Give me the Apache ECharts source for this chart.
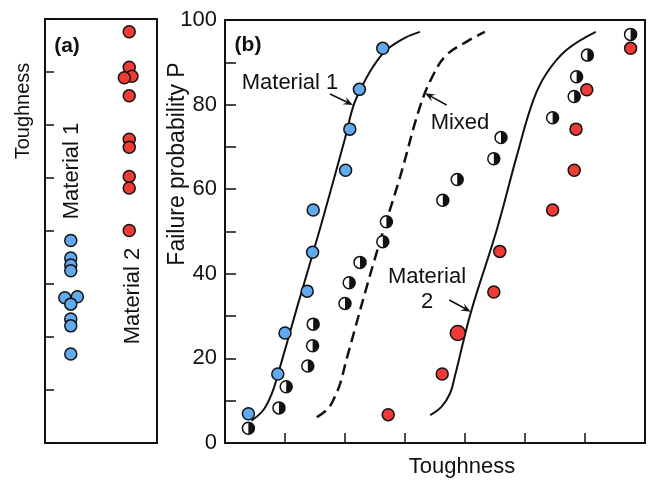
<!DOCTYPE html>
<html>
<head>
<meta charset="utf-8">
<script src="https://cdn.jsdelivr.net/npm/echarts@6/dist/echarts.min.js"></script>
<style>
  html, body { margin: 0; padding: 0; background: #fff; }
  #chart { width: 649px; height: 480px; }
</style>
</head>
<body>
<div id="chart"></div>
<script>
// panel (a): [column position, toughness]
var aMaterial1 = [[2.3, 3.82], [2.3, 3.49], [2.3, 3.36], [2.3, 3.25], [1.77, 2.74],
  [2.89, 2.76], [2.3, 2.62], [2.3, 2.34], [2.3, 2.21], [2.3, 1.68]];
var aMaterial2 = [[7.52, 7.76], [7.52, 7.09], [7.76, 6.92], [7.08, 6.89], [7.52, 6.55],
  [7.52, 5.73], [7.52, 5.58], [7.52, 5.03], [7.52, 4.81], [7.52, 4.01]];

// panel (b): [toughness, failure probability P]
var bMaterial1 = [[0.39, 6.9], [0.88, 16.3], [1.0, 26.0], [1.37, 35.9], [1.46, 45.1],
  [1.47, 55.1], [2.01, 64.5], [2.08, 74.2], [2.24, 83.6], [2.63, 93.3]];
var bMaterial2 = [[2.72, 6.7], [3.62, 16.3], [3.88, 26.0], [4.48, 35.7], [4.58, 45.3],
  [5.46, 55.1], [5.82, 64.5], [5.85, 74.2], [6.03, 83.5], [6.76, 93.3]];
var bMixed = [[0.39, 3.5], [0.9, 8.3], [1.02, 13.3], [1.38, 18.2], [1.46, 23.0],
  [1.47, 28.1], [2.0, 33.0], [2.07, 37.9], [2.25, 42.7], [2.63, 47.6],
  [2.69, 52.3], [3.63, 57.4], [3.87, 62.3], [4.48, 67.2], [4.6, 72.2],
  [5.46, 76.9], [5.82, 81.9], [5.86, 86.6], [6.04, 91.7], [6.76, 96.6]];

// fitted curves
var curveMaterial1 = [[0.44, 5.3], [0.64, 7.8], [0.78, 11.7], [0.88, 16.1], [1.2, 32],
  [1.6, 51.5], [2.0, 72], [2.14, 79.7], [2.28, 84.2], [2.47, 89], [2.69, 92.9],
  [3.0, 95.8], [3.25, 97.2]];
var curveMixed = [[1.53, 6.1], [1.72, 8.2], [1.83, 10.9], [1.92, 14.1], [2.03, 20],
  [2.5, 43.7], [2.92, 63], [3.25, 79.5], [3.47, 87], [3.69, 91.7], [4.03, 94.9],
  [4.33, 97.2]];
var curveMaterial2 = [[3.42, 6.6], [3.61, 8.6], [3.75, 11.7], [3.83, 15.7], [4.1, 31],
  [4.53, 50.4], [4.86, 67.7], [5.14, 81.1], [5.36, 87.4], [5.69, 92.9], [6.18, 97.2]];

var font = 'Liberation Sans, Arial, Helvetica, sans-serif';
var ink = '#111';
var blue = '#62aaf0';
var red = '#ee3b35';

// small filled arrow head from (x1,y1) pointing at (x2,y2)
function arrow(x1, y1, x2, y2) {
  var dx = x2 - x1, dy = y2 - y1;
  var len = Math.sqrt(dx * dx + dy * dy);
  var ux = dx / len, uy = dy / len;
  var nx = -uy, ny = ux;
  var bx = x2 - 10 * ux, by = y2 - 10 * uy;
  return [
    { type: 'polyline', shape: { points: [[x1, y1], [x2 - 4 * ux, y2 - 4 * uy]] },
      style: { stroke: ink, lineWidth: 1.5, fill: null } },
    { type: 'polygon',
      shape: { points: [[x2, y2], [bx + 4 * nx, by + 4 * ny], [x2 - 6 * ux, y2 - 6 * uy], [bx - 4 * nx, by - 4 * ny]] },
      style: { fill: ink } }
  ];
}

function label(text, x, y, size, opts) {
  opts = opts || {};
  return {
    type: 'text', x: x, y: y, rotation: opts.rotate ? Math.PI / 2 : 0,
    style: {
      text: text, fontSize: size, fontFamily: font, fontWeight: opts.bold ? 'bold' : 'normal',
      fill: ink, align: 'center', verticalAlign: 'middle', lineHeight: opts.lineHeight || size
    }
  };
}

var graphics = [
  label('Toughness', 23, 111, 20, { rotate: true }),
  label('(a)', 67, 46, 21, { bold: true }),
  label('Material 1', 72, 171, 22, { rotate: true }),
  label('Material 2', 133, 296, 22, { rotate: true }),
  label('Failure probability P', 178, 164, 23, { rotate: true }),
  label('Toughness', 462, 467, 22),
  label('(b)', 248, 45, 21, { bold: true }),
  label('Material 1', 290, 83, 22),
  label('Mixed', 460, 123, 22),
  label('Material\n2', 427, 289, 22, { lineHeight: 25 })
].concat(arrow(330, 94, 353, 105))
 .concat(arrow(446.7, 105, 425, 93.3))
 .concat(arrow(449.3, 300, 470.7, 311.7));

var dom = document.getElementById('chart');
var myChart = echarts.init(dom, null, { renderer: 'canvas' });

var tickStyle = { color: ink, width: 1.5 };

var option = {
  animation: false,
  backgroundColor: '#fff',
  grid: [
    { left: 45, top: 19, width: 112, height: 424, show: true, borderColor: ink, borderWidth: 2 },
    { left: 225, top: 20, width: 420, height: 423, show: true, borderColor: ink, borderWidth: 2 }
  ],
  xAxis: [
    { gridIndex: 0, type: 'value', min: 0, max: 10, show: false },
    {
      gridIndex: 1, type: 'value', min: 0, max: 7, interval: 1,
      axisLine: { show: false },
      axisTick: { inside: true, length: 10, lineStyle: tickStyle },
      axisLabel: { show: false },
      splitLine: { show: false }
    }
  ],
  yAxis: [
    {
      gridIndex: 0, type: 'value', min: 0, max: 8, interval: 1,
      axisLine: { show: false },
      axisTick: { inside: true, length: 9, lineStyle: tickStyle },
      axisLabel: { show: false },
      splitLine: { show: false }
    },
    {
      gridIndex: 1, type: 'value', min: 0, max: 100, interval: 10,
      axisLine: { show: false },
      axisTick: { inside: true, length: 11, lineStyle: tickStyle },
      axisLabel: {
        margin: 8, fontSize: 22, fontFamily: font, color: ink,
        formatter: function (v) { return v % 20 === 0 ? String(v) : ''; }
      },
      splitLine: { show: false }
    }
  ],
  series: [
    {
      type: 'scatter', xAxisIndex: 0, yAxisIndex: 0, data: aMaterial1, symbolSize: 12, z: 3,
      itemStyle: { color: blue, borderColor: ink, borderWidth: 1.5, opacity: 1 }
    },
    {
      type: 'scatter', xAxisIndex: 0, yAxisIndex: 0, data: aMaterial2, symbolSize: 12, z: 3,
      itemStyle: { color: red, borderColor: ink, borderWidth: 1.5, opacity: 1 }
    },
    {
      type: 'line', xAxisIndex: 1, yAxisIndex: 1, data: curveMaterial1, showSymbol: false,
      smooth: 0.4, z: 2, lineStyle: { color: ink, width: 2 }
    },
    {
      type: 'line', xAxisIndex: 1, yAxisIndex: 1, data: curveMixed, showSymbol: false,
      smooth: 0.4, z: 2, lineStyle: { color: ink, width: 2.5, type: [11, 6] }
    },
    {
      type: 'line', xAxisIndex: 1, yAxisIndex: 1, data: curveMaterial2, showSymbol: false,
      smooth: 0.4, z: 2, lineStyle: { color: ink, width: 2 }
    },
    {
      type: 'scatter', xAxisIndex: 1, yAxisIndex: 1, data: bMaterial1, symbolSize: 12, z: 3,
      itemStyle: { color: blue, borderColor: ink, borderWidth: 1.5, opacity: 1 }
    },
    {
      type: 'scatter', xAxisIndex: 1, yAxisIndex: 1, data: bMaterial2, z: 3,
      symbolSize: function (val, params) { return params.dataIndex === 2 ? 15 : 12; },
      itemStyle: { color: red, borderColor: ink, borderWidth: 1.5, opacity: 1 }
    },
    {
      // half-filled markers: white disc ...
      type: 'scatter', xAxisIndex: 1, yAxisIndex: 1, data: bMixed, symbolSize: 12, z: 3,
      itemStyle: { color: '#fff', borderColor: ink, borderWidth: 1.5, opacity: 1 }
    },
    {
      // ... with the right half in black
      type: 'scatter', xAxisIndex: 1, yAxisIndex: 1, data: bMixed, z: 4,
      symbol: 'path://M0,0 A10,10 0 0,1 0,20 Z', symbolSize: [6, 12], symbolOffset: [3, 0],
      itemStyle: { color: ink, opacity: 1 }
    }
  ],
  graphic: graphics
};

if (option && typeof option === 'object') {
  myChart.setOption(option);
}
window.addEventListener('resize', myChart.resize);
</script>
</body>
</html>
